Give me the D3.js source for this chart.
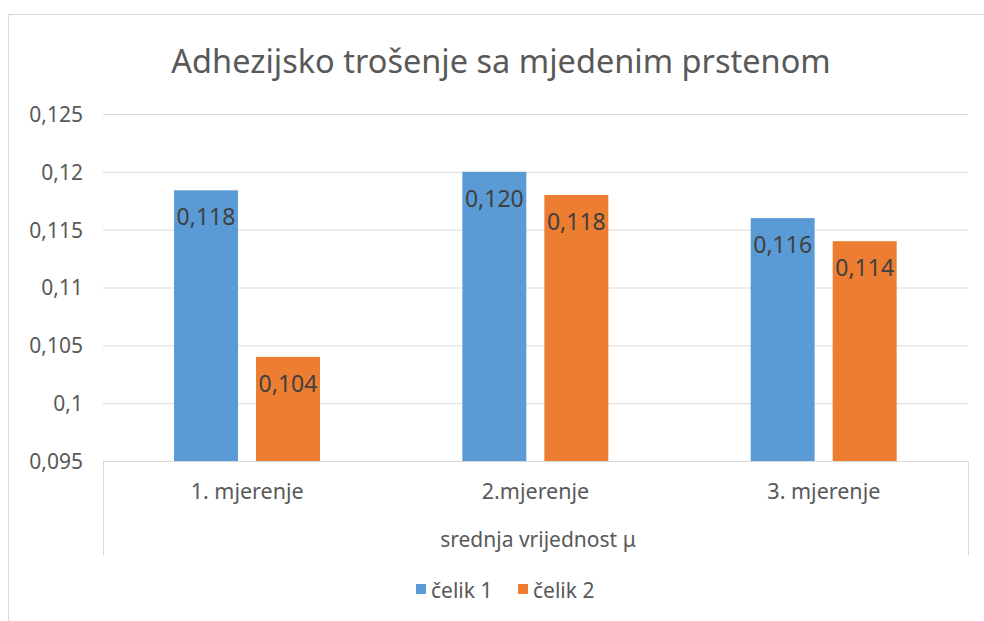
<!doctype html>
<html>
<head>
<meta charset="utf-8"/>
<script src="https://d3js.org/d3.v7.min.js"></script>
<style>
  body { margin: 0; background: #fff; }
  text { font-family: "Noto Sans", "Open Sans", sans-serif; fill: #595959; }
</style>
</head>
<body>
<svg id="chart"></svg>
<script>
var categories = ["1. mjerenje", "2.mjerenje", "3. mjerenje"];
var seriesNames = ["čelik 1", "čelik 2"];
var celik1 = [0.1184, 0.120, 0.116];
var celik2 = [0.104, 0.118, 0.114];
var yTicks = [0.095, 0.1, 0.105, 0.11, 0.115, 0.12, 0.125];
var groupLabel = "srednja vrijednost μ";
var colors = ["#5b9bd5", "#ed7d31"];

var width = 984, height = 621;
var svg = d3.select("#chart").attr("width", width).attr("height", height);

// okvir grafa
svg.append("path")
  .attr("d", "M8.5,621 V14.5 H984")
  .attr("fill", "none").attr("stroke", "#d9d9d9");

// naslov
svg.append("text")
  .attr("x", 501).attr("y", 73)
  .attr("text-anchor", "middle")
  .style("font-size", "32.5px")
  .text("Adhezijsko trošenje sa mjedenim prstenom");

var plotL = 103, plotR = 968, plotT = 114, plotB = 461;

var y = d3.scaleLinear().domain([0.095, 0.125]).range([plotB, plotT]);
var x0 = d3.scaleBand().domain(categories).range([plotL, plotR]);
var x1 = d3.scaleBand().domain(seriesNames).range([71, 217]).paddingInner(0.22);

var fmtTick = function (d) { return String(+d.toFixed(3)).replace(".", ","); };

// mreza + oznake y
var yAxis = d3.axisLeft(y).tickValues(yTicks).tickSize(-(plotR - plotL)).tickFormat(fmtTick);
var gy = svg.append("g").attr("transform", "translate(" + plotL + ",0)").call(yAxis);
gy.select(".domain").remove();
gy.selectAll(".tick line").attr("stroke", "#d9d9d9");
gy.selectAll(".tick text").attr("x", -20).attr("dy", "0.35em")
  .style("font-size", "21px").style("font-family", "Noto Sans").attr("fill", "#595959");

// okvir osi kategorija
svg.append("path")
  .attr("d", "M" + (plotL + 0.5) + ",555 V" + (plotB + 0.5) + " H" + (plotR + 0.5) + " V555")
  .attr("fill", "none").attr("stroke", "#d9d9d9");

// stupci
var data = categories.map(function (c, i) {
  return { cat: c, vals: [celik1[i], celik2[i]] };
});
var groups = svg.selectAll("g.grp").data(data).enter().append("g")
  .attr("class", "grp")
  .attr("transform", function (d) { return "translate(" + x0(d.cat) + ",0)"; });

groups.selectAll("rect").data(function (d) { return d.vals; }).enter().append("rect")
  .attr("x", function (d, i) { return x1(seriesNames[i]); })
  .attr("width", x1.bandwidth())
  .attr("y", function (d) { return y(d); })
  .attr("height", function (d) { return plotB - y(d); })
  .attr("fill", function (d, i) { return colors[i]; });

groups.selectAll("text.val").data(function (d) { return d.vals; }).enter().append("text")
  .attr("class", "val")
  .attr("x", function (d, i) { return x1(seriesNames[i]) + x1.bandwidth() / 2; })
  .attr("y", function (d) { return y(d) + 35; })
  .attr("text-anchor", "middle")
  .style("font-size", "23px")
  .style("fill", "#404040")
  .text(function (d) { return d3.format(".3f")(d).replace(".", ","); });

// kategorije
svg.selectAll("text.cat").data(categories).enter().append("text")
  .attr("class", "cat")
  .attr("x", function (d) { return x0(d) + x0.bandwidth() / 2; })
  .attr("y", 499)
  .attr("text-anchor", "middle")
  .style("font-size", "21.5px")
  .text(function (d) { return d; });

svg.append("text")
  .attr("x", 538).attr("y", 547)
  .attr("text-anchor", "middle")
  .style("font-size", "21px")
  .text(groupLabel);

// legenda
var legend = svg.selectAll("g.leg").data(seriesNames).enter().append("g")
  .attr("class", "leg")
  .attr("transform", function (d, i) { return "translate(" + (416 + i * 102) + ",0)"; });
legend.append("rect").attr("x", 0).attr("y", 584).attr("width", 10).attr("height", 10)
  .attr("fill", function (d, i) { return colors[i]; });
legend.append("text").attr("x", 15).attr("y", 598)
  .style("font-size", "21px")
  .text(function (d) { return d; });
</script>
</body>
</html>
